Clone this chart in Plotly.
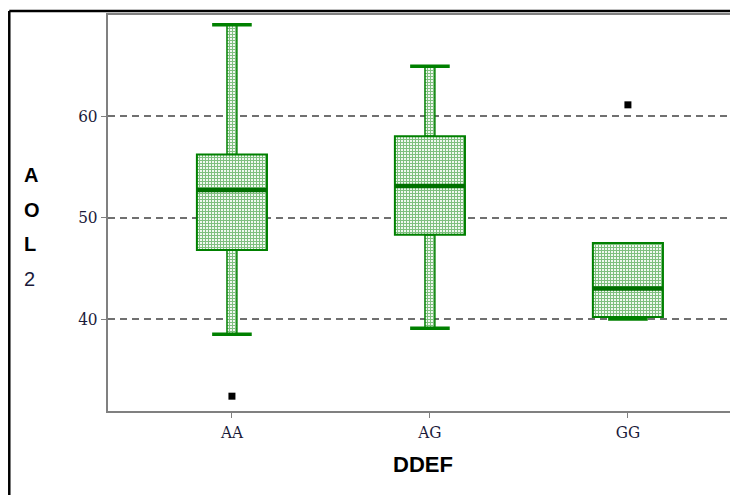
import plotly.graph_objects as go

categories = ["AA", "AG", "GG"]
q1 = [46.8, 48.3, 40.2]
median = [52.7, 53.1, 43.0]
q3 = [56.2, 58.0, 47.5]
lower_whisker = [38.5, 39.1, 40.0]
upper_whisker = [69.0, 64.9, 47.5]
outlier_cat = ["AA", "GG"]
outlier_val = [32.4, 61.1]
y_ticks = [40, 50, 60]

GREEN = "#008000"
BOX_W = 0.354
WHISK_W = 0.05
CAP_W = 0.2

xi = list(range(len(categories)))
pattern = dict(shape="+", fgcolor=GREEN, bgcolor="white", size=3, solidity=0.65)

fig = go.Figure()

# upper whiskers
fig.add_trace(go.Bar(
    x=xi, base=q3, y=[u - q for u, q in zip(upper_whisker, q3)], width=WHISK_W,
    marker=dict(color="white", line=dict(color=GREEN, width=1.5), pattern=pattern),
    hoverinfo="skip", showlegend=False))
# lower whiskers
fig.add_trace(go.Bar(
    x=xi, base=lower_whisker, y=[q - l for q, l in zip(q1, lower_whisker)], width=WHISK_W,
    marker=dict(color="white", line=dict(color=GREEN, width=1.5), pattern=pattern),
    hoverinfo="skip", showlegend=False))
# boxes
fig.add_trace(go.Bar(
    x=xi, base=q1, y=[b - a for a, b in zip(q1, q3)], width=BOX_W,
    marker=dict(color="white", line=dict(color=GREEN, width=2), pattern=pattern),
    hoverinfo="skip", showlegend=False))

# caps (only where the whisker has length)
cx, cy = [], []
for i in xi:
    for v, edge in ((upper_whisker[i], q3[i]), (lower_whisker[i], q1[i])):
        if v != edge:
            cx += [i - CAP_W / 2, i + CAP_W / 2, None]
            cy += [v, v, None]
fig.add_trace(go.Scatter(x=cx, y=cy, mode="lines", line=dict(color=GREEN, width=3.5),
                         hoverinfo="skip", showlegend=False))

# medians
mx, my = [], []
for i in xi:
    mx += [i - BOX_W / 2, i + BOX_W / 2, None]
    my += [median[i], median[i], None]
fig.add_trace(go.Scatter(x=mx, y=my, mode="lines", line=dict(color="#007000", width=4.5),
                         hoverinfo="skip", showlegend=False))

# outliers
fig.add_trace(go.Scatter(
    x=[categories.index(c) for c in outlier_cat], y=outlier_val, mode="markers",
    marker=dict(symbol="square", size=7, color="black"),
    hoverinfo="skip", showlegend=False))

tick_font = dict(family="DejaVu Serif Condensed, DejaVu Serif, serif", size=17, color="#1a1a3a")

# the page body has an 8px margin, so the figure is sized to fit the 738x495 window
fig.update_layout(
    width=730, height=487,
    margin=dict(l=100, r=0, t=7, b=84),
    paper_bgcolor="white", plot_bgcolor="white",
    barmode="overlay",
    xaxis=dict(
        range=[-0.626, 2.556], tickvals=xi, ticktext=categories,
        showline=True, linecolor="#808080", linewidth=2, mirror=True,
        ticks="outside", ticklen=5, tickcolor="#808080", tickwidth=1,
        showgrid=False, zeroline=False, tickfont=tick_font,
        title=dict(text="<b>DDEF</b>", font=dict(family="Liberation Sans, Arial, sans-serif", size=22, color="black"), standoff=15),
    ),
    yaxis=dict(
        range=[30.94, 69.95], tickvals=y_ticks,
        showline=True, linecolor="#808080", linewidth=2,
        ticks="outside", ticklen=5, tickcolor="#808080", tickwidth=1,
        showgrid=True, gridcolor="#707070", gridwidth=1.5, griddash="7px,5px",
        zeroline=False, tickfont=tick_font,
    ),
)

# vertical stacked axis title
letters = ["A", "O", "L", "2"]
for k, ch in enumerate(letters):
    bold = ch != "2"
    fig.add_annotation(
        x=-0.136, y=(60 - (175 + 34.5 * k - 116) / 10.15), xref="paper", yref="y",
        text=f"<b>{ch}</b>" if bold else ch, showarrow=False,
        font=dict(family="Liberation Sans, Arial, sans-serif", size=20,
                  color="black" if bold else "#1a1a3a"),
    )

# outer frame
fig.add_shape(type="line", xref="paper", yref="paper", x0=-0.1567, x1=1.0, y0=1.0101, y1=1.0101,
              line=dict(color="black", width=2.5))
fig.add_shape(type="line", xref="paper", yref="paper", x0=-0.1567, x1=-0.1567, y0=1.0101, y1=-0.3,
              line=dict(color="black", width=2.5))

fig.write_html("out.html")
